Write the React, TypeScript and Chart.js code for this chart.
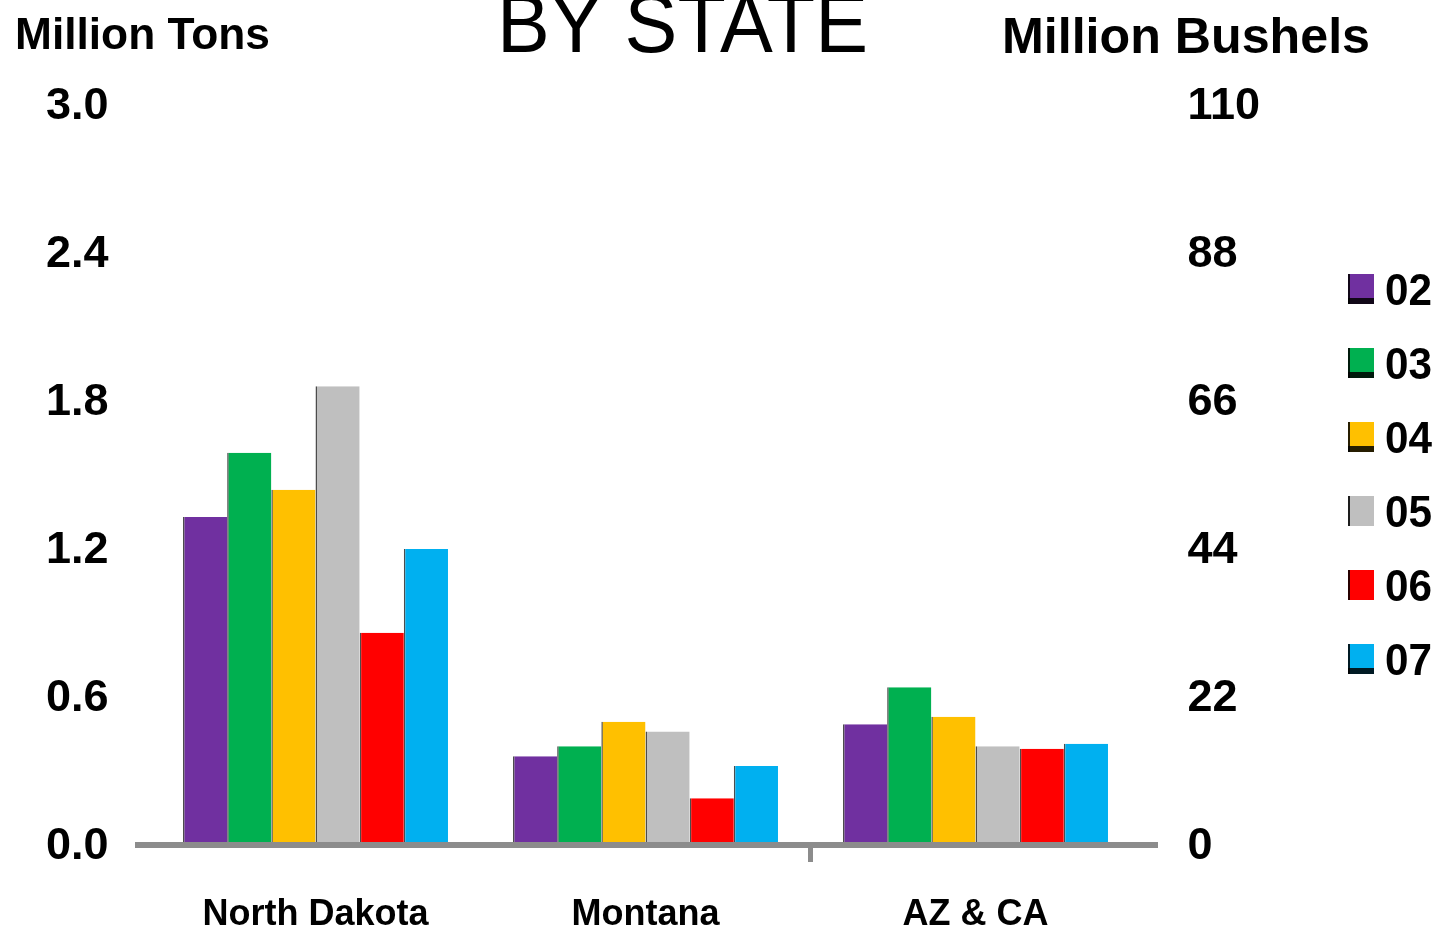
import React, { useEffect, useRef } from "react";
import { Chart, registerables } from "chart.js";
Chart.register(...registerables);

const categories = ["North Dakota", "Montana", "AZ & CA"];
const seriesLabels = ["02", "03", "04", "05", "06", "07"];
const seriesColors = ["#7030A0", "#00B050", "#FFC000", "#BFBFBF", "#FF0000", "#00B0F0"];
const values02 = [1.33, 0.36, 0.49];
const values03 = [1.59, 0.40, 0.64];
const values04 = [1.44, 0.50, 0.52];
const values05 = [1.86, 0.46, 0.40];
const values06 = [0.86, 0.19, 0.39];
const values07 = [1.20, 0.32, 0.41];
const seriesValues = [values02, values03, values04, values05, values06, values07];
const legendBottomShadow = [true, true, true, false, false, true];

const titleText = "BY STATE";
const leftAxisTitle = "Million Tons";
const rightAxisTitle = "Million Bushels";

const FONT = "'Liberation Sans', Arial, sans-serif";

function fitText(ctx: CanvasRenderingContext2D, text: string, x: number, y: number, width: number, font: string) {
  ctx.save();
  ctx.font = font;
  const w = ctx.measureText(text).width;
  ctx.translate(x, y);
  ctx.scale(width / w, 1);
  ctx.textAlign = "left";
  ctx.textBaseline = "alphabetic";
  ctx.fillStyle = "#000";
  ctx.fillText(text, 0, 0);
  ctx.restore();
}

const decorPlugin = {
  id: "decor",
  afterDatasetsDraw(chart: any) {
    const ctx: CanvasRenderingContext2D = chart.ctx;
    const x = chart.scales.x;
    const y = chart.scales.y;
    const y0 = y.getPixelForValue(0);
    ctx.save();
    ctx.fillStyle = "#8C8C8C";
    ctx.fillRect(135, y0 - 3, 1023, 6);
    const sep = (x.getPixelForValue(1) + x.getPixelForValue(2)) / 2;
    ctx.fillRect(sep - 2.5, y0, 5, 17);
    ctx.restore();
  },
  afterDraw(chart: any) {
    const ctx: CanvasRenderingContext2D = chart.ctx;
    fitText(ctx, titleText, 497, 52, 371, `normal 84px ${FONT}`);
    fitText(ctx, leftAxisTitle, 15, 49, 255, `bold 44px ${FONT}`);
    fitText(ctx, rightAxisTitle, 1002, 53, 368, `bold 50px ${FONT}`);
    ctx.save();
    chart.data.datasets.forEach((ds: any, i: number) => {
      const top = 274 + i * 74;
      ctx.fillStyle = ds.backgroundColor;
      ctx.fillRect(1348, top, 26, 30);
      ctx.fillStyle = "rgba(0,0,0,0.85)";
      ctx.fillRect(1348, top, 2, 30);
      if (legendBottomShadow[i]) ctx.fillRect(1348, top + 24, 26, 6);
      fitText(ctx, ds.label, 1385, top + 31, 47, `bold 44px ${FONT}`);
    });
    ctx.restore();
  },
};

export default function App() {
  const ref = useRef<HTMLCanvasElement>(null);
  useEffect(() => {
    if (!ref.current) return;
    const chart = new Chart(ref.current, {
      type: "bar",
      data: {
        labels: categories,
        datasets: seriesLabels.map((label, i) => ({
          label,
          data: seriesValues[i],
          backgroundColor: seriesColors[i],
          borderColor: "rgba(0,0,0,0.7)",
          borderWidth: { left: 1.5, right: 0, top: 0, bottom: 0 },
          borderSkipped: false,
          yAxisID: "y",
          categoryPercentage: 0.803,
          barPercentage: 1.0,
        })),
      },
      options: {
        responsive: false,
        animation: false,
        layout: { padding: { top: 105, left: 0, right: 0, bottom: 0 } },
        plugins: { legend: { display: false }, tooltip: { enabled: false }, title: { display: false } },
        scales: {
          x: {
            grid: { display: false, drawTicks: false },
            border: { display: false },
            ticks: { color: "#000", font: { family: FONT, size: 36, weight: "bold" }, padding: 48 },
            afterFit(s: any) { s.height = 89; },
          },
          y: {
            position: "left",
            min: 0,
            max: 3.0,
            grid: { display: false, drawTicks: false },
            border: { display: false },
            ticks: {
              stepSize: 0.6,
              color: "#000",
              font: { family: FONT, size: 45, weight: "bold" },
              padding: 42,
              labelOffset: 2,
              callback: (v: any) => Number(v).toFixed(1),
            },
            afterFit(s: any) { s.width = 150.5; },
          },
          y2: {
            position: "right",
            min: 0,
            max: 110,
            grid: { display: false, drawTicks: false },
            border: { display: false },
            ticks: {
              stepSize: 22,
              color: "#000",
              font: { family: FONT, size: 45, weight: "bold" },
              padding: 47,
              labelOffset: 2,
              callback: (v: any) => String(Math.round(Number(v))),
            },
            afterFit(s: any) { s.width = 309.5; },
          },
        },
      },
      plugins: [decorPlugin],
    } as any);
    return () => chart.destroy();
  }, []);
  return (
    <div style={{ position: "absolute", left: 0, top: 0, width: 1450, height: 934, background: "#fff" }}>
      <canvas ref={ref} width={1450} height={934} style={{ display: "block", width: 1450, height: 934 }} />
    </div>
  );
}
